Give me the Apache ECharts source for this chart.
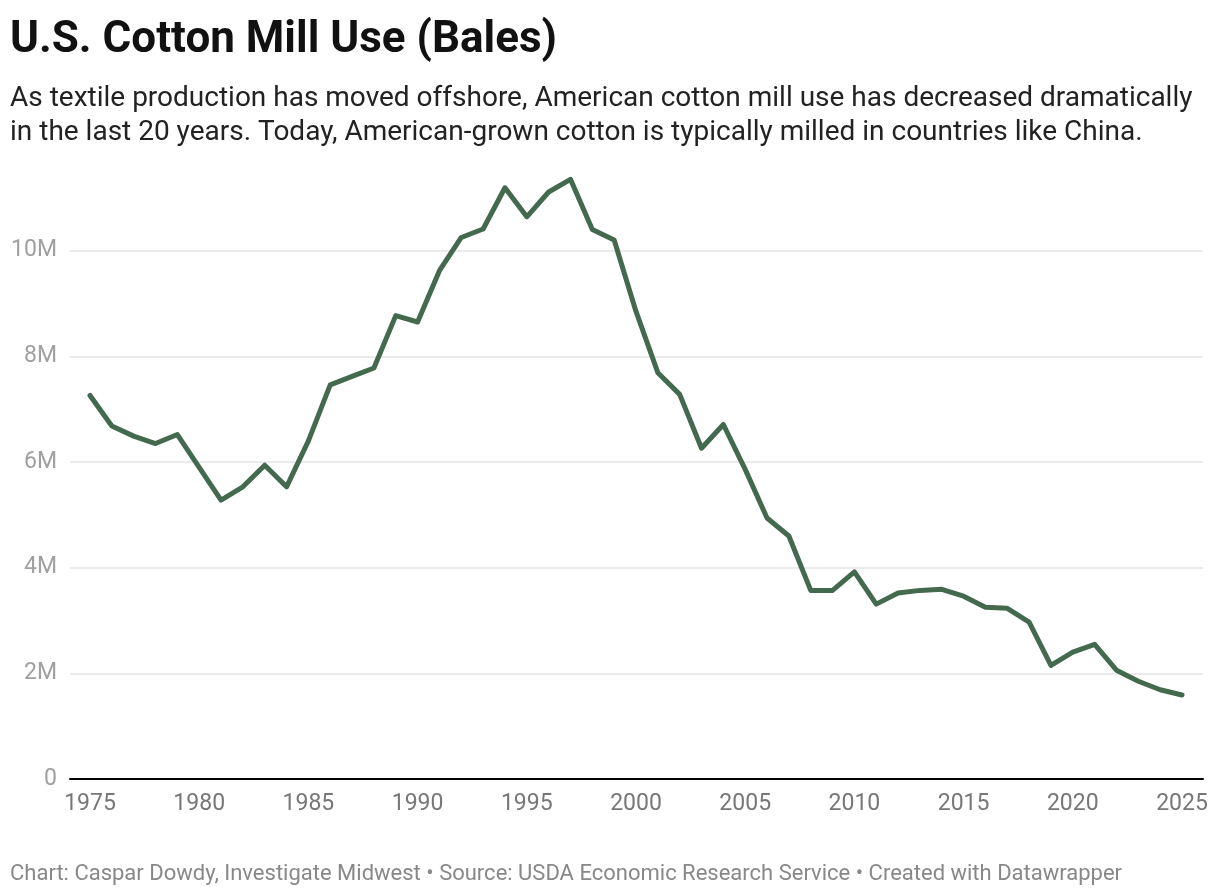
<!DOCTYPE html>
<html>
<head>
<meta charset="utf-8">
<script src="https://cdn.jsdelivr.net/npm/echarts@6/dist/echarts.min.js"></script>
<style>
html,body{margin:0;padding:0;background:#fff;}
#chart{width:1220px;height:896px;}
</style>
</head>
<body>
<div id="chart"></div>
<script>
const years = [1975,1976,1977,1978,1979,1980,1981,1982,1983,1984,1985,1986,1987,1988,1989,1990,1991,1992,1993,1994,1995,1996,1997,1998,1999,2000,2001,2002,2003,2004,2005,2006,2007,2008,2009,2010,2011,2012,2013,2014,2015,2016,2017,2018,2019,2020,2021,2022,2023,2024,2025];
// Mill use, million bales
const millUse = [7.26,6.68,6.49,6.35,6.52,5.90,5.28,5.53,5.94,5.53,6.40,7.46,7.62,7.78,8.77,8.65,9.62,10.25,10.41,11.19,10.64,11.11,11.35,10.40,10.20,8.85,7.69,7.28,6.26,6.71,5.86,4.94,4.60,3.57,3.57,3.92,3.31,3.52,3.57,3.59,3.46,3.25,3.23,2.97,2.15,2.40,2.55,2.06,1.85,1.69,1.59];
const xTicks = [1975,1980,1985,1990,1995,2000,2005,2010,2015,2020,2025];
const yTicks = [0,2,4,6,8,10];

const titleText = 'U.S. Cotton Mill Use (Bales)';
const subtitleText = 'As textile production has moved offshore, American cotton mill use has decreased dramatically\nin the last 20 years. Today, American-grown cotton is typically milled in countries like China.';
const footerText = 'Chart: Caspar Dowdy, Investigate Midwest \u2022 Source: USDA Economic Research Service \u2022 Created with Datawrapper';

const chart = echarts.init(document.getElementById('chart'), null, {renderer:'canvas'});
const font = 'Roboto, "Noto Sans", sans-serif';
chart.setOption({
  animation:false,
  backgroundColor:'#fff',
  textStyle:{fontFamily:font},
  title:[
    {text:titleText,left:10,top:16,padding:0,textStyle:{fontFamily:font,fontSize:44,fontWeight:'bold',color:'#111',lineHeight:50}},
    {text:subtitleText,left:10,top:82,padding:0,textStyle:{fontFamily:font,fontSize:28,fontWeight:'normal',color:'#222',lineHeight:34}},
    {text:footerText,left:10,top:861,padding:0,textStyle:{fontFamily:font,fontSize:22,fontWeight:'normal',color:'#888',lineHeight:26}}
  ],
  grid:{left:70,right:17,top:145,bottom:117,containLabel:false},
  xAxis:{
    type:'value',
    min:1975-20/21.84,
    max:2025+21/21.84,
    axisLine:{show:true,onZero:false,lineStyle:{color:'#000',width:2}},
    axisTick:{show:false},
    splitLine:{show:false},
    axisLabel:{
      customValues:xTicks,
      formatter:v=>String(v),
      fontSize:23,color:'#777',margin:14,fontFamily:font,
      showMinLabel:true,showMaxLabel:true
    }
  },
  yAxis:{
    type:'value',
    min:0,max:12,interval:2,
    axisLine:{show:false},
    axisTick:{show:false},
    axisLabel:{
      customValues:yTicks,
      formatter:v=>v===0?'0':(v+'M'),
      fontSize:23,color:'#a0a0a0',margin:13,fontFamily:font
    },
    splitLine:{show:true,lineStyle:{color:['#e5e5e5','#e5e5e5','#e5e5e5','#e5e5e5','#e5e5e5','#e5e5e5','rgba(0,0,0,0)'],width:1.5}}
  },
  series:[{
    type:'line',
    data:years.map((y,i)=>[y,millUse[i]]),
    showSymbol:false,
    symbol:'none',
    lineStyle:{color:'#436a4e',width:5,join:'round',cap:'round'},
    z:5
  }]
});
</script>
</body>
</html>
